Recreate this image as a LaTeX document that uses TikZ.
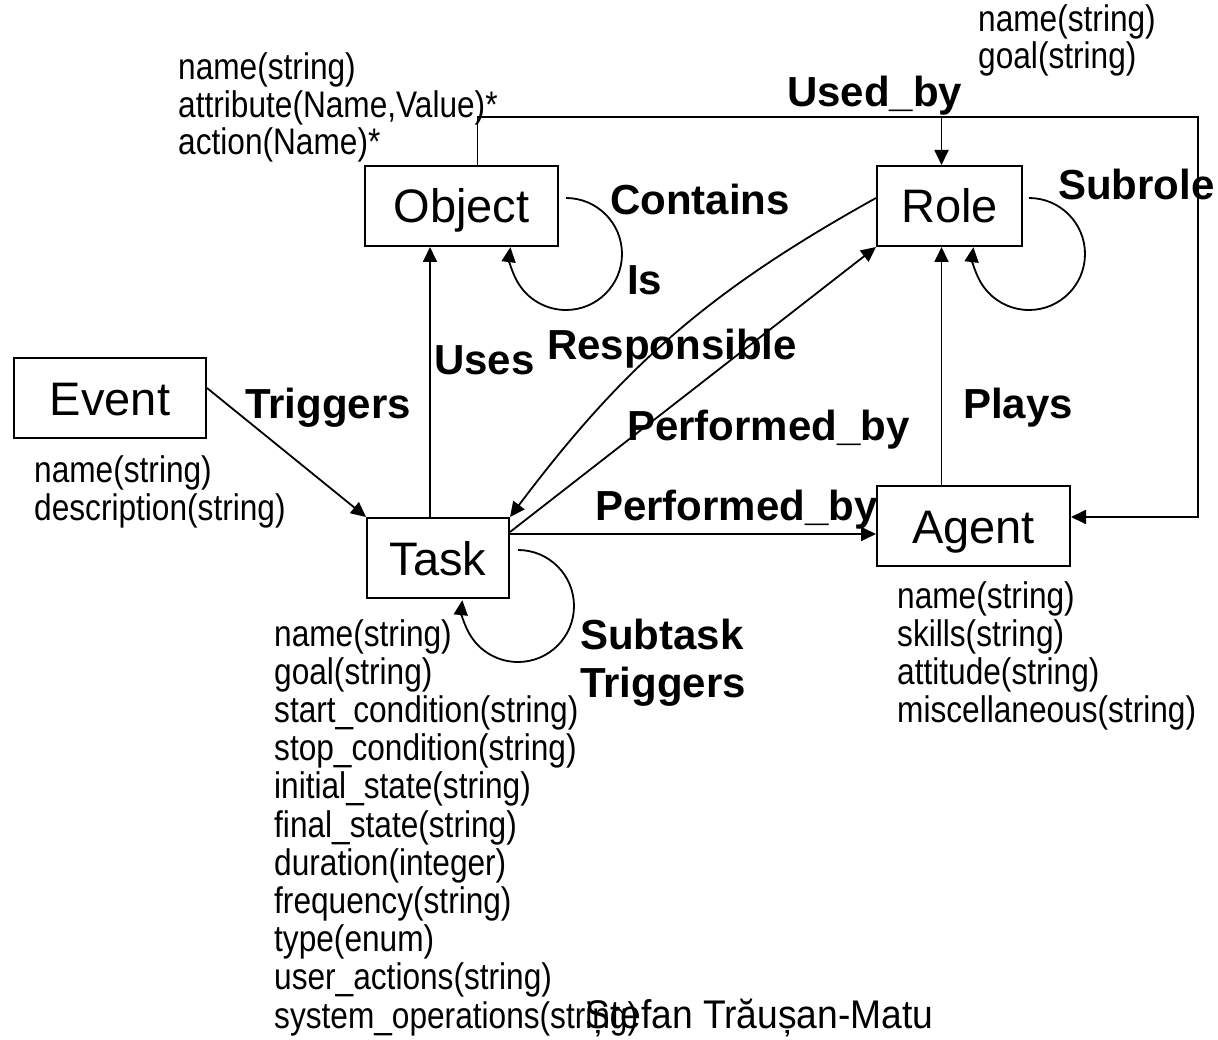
\documentclass[tikz,border=0pt]{standalone}
\usepackage{fontspec}
\setmainfont{Liberation Sans}
\newfontfamily\attrfont[FakeStretch=0.855]{Liberation Sans}
\newfontfamily\footfont[FakeStretch=0.93]{Liberation Sans}
\usetikzlibrary{arrows.meta}
\tikzset{
  box/.style={draw, line width=2pt, inner sep=0pt, text height=34pt, text depth=0pt,
              font=\fontsize{47}{56}\selectfont},
  arr/.style={line width=1.8pt, -{Triangle[length=15pt,width=14pt]}},
  ln/.style={line width=1.8pt},
  rel/.style={anchor=base west, inner sep=0pt, font=\bfseries\fontsize{42}{50}\selectfont},
  attr/.style={anchor=base west, inner sep=0pt, font=\attrfont\fontsize{37}{38}\selectfont},
  foot/.style={anchor=base west, inner sep=0pt, font=\footfont\fontsize{40}{44}\selectfont},
}
\begin{document}
\begin{tikzpicture}[x=1pt,y=1pt]
\useasboundingbox (0,0) rectangle (1218,-1040);

% boxes
\node[box, minimum width=193pt, minimum height=80pt] (obj)   at (461.5,-206) {Object};
\node[box, minimum width=145pt, minimum height=80pt] (role)  at (949.5,-206) {Role};
\node[box, minimum width=193pt, minimum height=80pt] (agent) at (973.5,-526) {Agent};
\node[box, minimum width=192pt, minimum height=80pt] (event) at (110,-398)   {Event};
\node[box, minimum width=142pt, minimum height=80pt] (task)  at (438,-558)   {Task};

% connectors
\draw[arr] ([yshift=10pt]event.east) -- (task.north west);
\draw[arr] ([xshift=-8pt]task.north) -- ([xshift=-8pt]task.north |- obj.south);
\draw[arr] ([xshift=7pt,yshift=8pt]obj.east) arc[start angle=90, end angle=-187, radius=56];
\draw[arr] ([xshift=6pt,yshift=8pt]role.east) arc[start angle=90, end angle=-187, radius=56];
\draw[arr] ([xshift=8pt,yshift=8pt]task.east) arc[start angle=90, end angle=-186, radius=56];

\coordinate (ub) at (1198,-117);
\draw[arr] ([xshift=16pt]obj.north) |- (ub) |- ([yshift=9pt]agent.east);
\draw[arr] ([xshift=-8pt]role.north |- ub) -- ([xshift=-8pt]role.north);
\draw[arr] ([xshift=-8pt]role.south |- agent.north) -- ([xshift=-8pt]role.south);

\coordinate (pa) at ([yshift=-8pt]agent.west);
\draw[arr] (task.east |- pa) -- (pa);
\draw[arr] ([yshift=26pt]task.east) -- (role.south west);
\draw[arr] ([yshift=8pt]role.west) to[bend right=12] (task.north east);

% relation labels
\node[rel] (lusedby) at (787,-107) {Used\_by};
\node[rel] (lcont)   at (610,-215) {Contains};
\node[rel] (lsubr)   at (1058,-200) {Subrole};
\node[rel] (lis)     at (627,-295) {Is};
\node[rel] (lresp)   at (547,-360) {Responsible};
\node[rel] (luses)   at (434,-375) {Uses};
\node[rel] (ltrig)   at (245,-418) {Triggers};
\node[rel] (lplays)  at (963,-418) {Plays};
\node[rel] (lpb1)    at (627,-440) {Performed\_by};
\node[rel] (lpb2)    at (595,-520) {Performed\_by};
\node[rel] (lsubt)   at (580,-649) {Subtask};
\node[rel] (lsubt2)  at (580,-697) {Triggers};

% attribute lists
\foreach \t [count=\i] in {name(string),{attribute(Name,Value)*},action(Name)*}
  \node[attr] (oa\i) at (178,{-80-37.3*(\i-1)}) {\t};
\foreach \t [count=\i] in {name(string),goal(string)}
  \node[attr] (ra\i) at (978,{-32-37*(\i-1)}) {\t};
\foreach \t [count=\i] in {name(string),description(string)}
  \node[attr] (ea\i) at (34,{-482-38*(\i-1)}) {\t};
\foreach \t [count=\i] in {name(string),skills(string),attitude(string),miscellaneous(string)}
  \node[attr] (aa\i) at (897,{-608-38*(\i-1)}) {\t};
\foreach \t [count=\i] in {name(string),goal(string),start\_condition(string),stop\_condition(string),
  initial\_state(string),final\_state(string),duration(integer),frequency(string),type(enum),
  user\_actions(string),system\_operations(string)}
  \node[attr] (ta\i) at (274,{-646-38.2*(\i-1)}) {\t};

\node[foot] (author) at (585,-1028) {Ștefan Trăușan-Matu};
\end{tikzpicture}
\end{document}
